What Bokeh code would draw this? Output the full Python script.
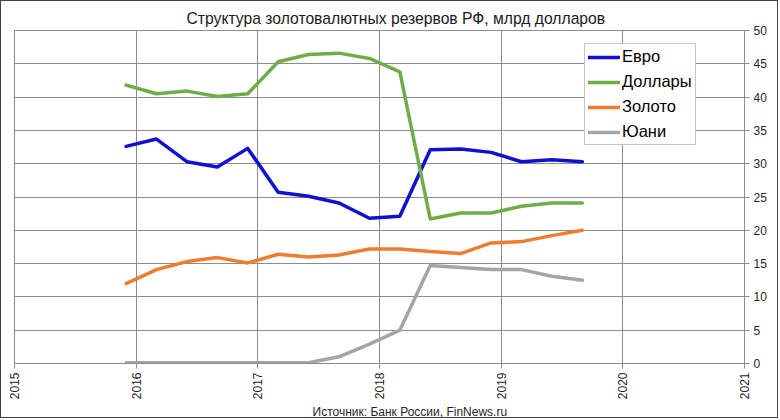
import numpy as np
from bokeh.plotting import figure
from bokeh.models import FixedTicker, Range1d, Legend, LegendItem, Title
from bokeh.embed import file_html
from bokeh.resources import INLINE

# quarterly observation dates (decimal years)
dates = [2015.917, 2016.167, 2016.417, 2016.667, 2016.917, 2017.167, 2017.417, 2017.667,
         2017.917, 2018.167, 2018.417, 2018.667, 2018.917, 2019.167, 2019.417, 2019.667]
euro = [32.6, 33.7, 30.3, 29.5, 32.3, 25.7, 25.1, 24.1, 21.8, 22.1, 32.1, 32.2, 31.7, 30.3, 30.6, 30.3]
dollars = [41.8, 40.5, 40.9, 40.1, 40.5, 45.3, 46.4, 46.6, 45.8, 43.8, 21.7, 22.6, 22.6, 23.6, 24.1, 24.1]
gold = [12.0, 14.1, 15.3, 15.9, 15.1, 16.4, 16.0, 16.3, 17.2, 17.2, 16.8, 16.5, 18.1, 18.3, 19.2, 20.0]
yuan = [0.1, 0.1, 0.1, 0.1, 0.1, 0.1, 0.1, 1.0, 2.9, 5.0, 14.7, 14.4, 14.1, 14.1, 13.1, 12.5]

series_names = ["Евро", "Доллары", "Золото", "Юани"]
series_values = [euro, dollars, gold, yuan]
colors = ["#1010D0", "#70AD47", "#ED7D31", "#A5A5A5"]

x_ticks = [2015, 2016, 2017, 2018, 2019, 2020, 2021]
y_ticks = [0, 5, 10, 15, 20, 25, 30, 35, 40, 45, 50]

title_text = "Структура золотовалютных резервов РФ, млрд долларов"
source_text = "Источник: Банк России, FinNews.ru"

FONT = "Liberation Sans"
GRID = "#8c8c8c"

p = figure(width=778, height=418, output_backend="svg", toolbar_location=None,
           x_range=Range1d(2015, 2021), y_range=Range1d(0, 50),
           y_axis_location="right",
           min_border_left=13, min_border_right=35, min_border_top=29, min_border_bottom=56)
p.styles = {"border": "1px solid #404040"}
p.background_fill_color = "white"
p.border_fill_color = "white"
p.outline_line_color = GRID

p.title.text = title_text
p.title.align = "left"
p.title.offset = 172
p.title.standoff = 8
p.title.text_line_height = 0.7
p.title.text_font = FONT
p.title.text_font_size = "15.7px"
p.title.text_font_style = "normal"
p.title.text_color = "#1a1a1a"

for ax in (p.xaxis[0], p.yaxis[0]):
    ax.axis_line_color = GRID
    ax.major_tick_line_color = GRID
    ax.major_tick_out = 5
    ax.major_tick_in = 0
    ax.minor_tick_line_color = None
    ax.major_label_text_font = FONT
    ax.major_label_text_font_size = "12px"
    ax.major_label_text_color = "#262626"

p.xaxis.ticker = FixedTicker(ticks=x_ticks)
p.xaxis.major_label_orientation = np.pi / 2
p.xaxis.major_label_standoff = 4
p.yaxis.ticker = FixedTicker(ticks=y_ticks)
p.yaxis.major_label_standoff = 4

p.xgrid.ticker = FixedTicker(ticks=x_ticks)
p.ygrid.ticker = FixedTicker(ticks=y_ticks)
for g in (p.xgrid[0], p.ygrid[0]):
    g.grid_line_color = GRID
    g.grid_line_width = 1

items = []
for name, vals, col in zip(series_names, series_values, colors):
    r = p.line(dates, vals, line_color=col, line_width=3.5, line_join="round", line_cap="round")
    items.append(LegendItem(label=name, renderers=[r]))

legend = Legend(items=items, location=(570, 218))
legend.padding = 3
legend.spacing = 6
legend.label_height = 16
legend.glyph_height = 16
legend.glyph_width = 32
legend.label_standoff = 2
legend.margin = 0
legend.border_line_color = GRID
legend.border_line_width = 1
legend.background_fill_color = "white"
legend.background_fill_alpha = 1
legend.label_text_font = FONT
legend.label_text_font_size = "16.5px"
legend.label_text_color = "#000000"
p.add_layout(legend)

src = Title(text=source_text, align="left", offset=298, standoff=0,
            text_font=FONT, text_font_size="12px", text_font_style="normal",
            text_color="#262626")
p.add_layout(src, "below")

open("out.html", "w").write(file_html(p, INLINE))
